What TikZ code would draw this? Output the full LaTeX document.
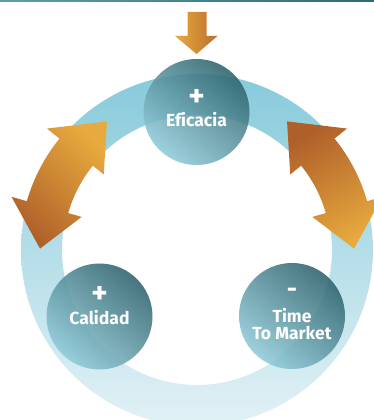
\documentclass[tikz,border=0pt]{standalone}
\usepackage{fontspec}
\setmainfont{Fira Sans}[Ligatures=NoCommon]
\definecolor{ringTop}{HTML}{87CADB}
\definecolor{ringBot}{HTML}{E2F1F6}
\definecolor{ballDark}{HTML}{2D626C}
\definecolor{ballLight}{HTML}{8FCAD8}
\definecolor{arrLight}{HTML}{E8AA3E}
\definecolor{arrDark}{HTML}{AF602A}
\definecolor{lineLeft}{HTML}{5E9DA7}
\definecolor{lineRight}{HTML}{2F6A74}
\tikzset{
  ball/.style={circle,minimum size=106pt,inner sep=0pt,top color=ballDark,bottom color=ballLight,shading angle=-40,fill opacity=.88},
  sign/.style={text=white,inner sep=0pt,font=\bfseries\fontsize{31}{31}\selectfont},
  word/.style={text=white,inner sep=0pt,anchor=base,font=\bfseries\fontsize{17.5}{18}\selectfont}
}
\begin{document}
\begin{tikzpicture}[x=1pt,y=1pt]
\useasboundingbox(0,0)rectangle(374,420);
\clip(0,0)rectangle(374,420);
% top rule
\shade[left color=lineLeft,right color=lineRight](0,418.3)rectangle(374,420);
% ring
\coordinate(c)at(197,170);
\shade[top color=ringTop,bottom color=ringBot,even odd rule](c)circle[radius=176](c)circle[radius=135];
% curved double arrows
\begin{scope}[shift={(c)}]
\shade[top color=arrLight,bottom color=arrDark,shading angle=-45]
  (141:134)--(141:120)--(125:157)--(141:193)--(141:177)arc[start angle=141,end angle=164,radius=177]
  --(164:193)--(179.5:157)--(164:120)--(164:134)arc[start angle=164,end angle=141,radius=134]--cycle;
\shade[top color=arrDark,bottom color=arrLight,shading angle=30]
  (39:134)--(39:120)--(55:157)--(39:193)--(39:177)arc[start angle=39,end angle=16,radius=177]
  --(16:193)--(0.5:157)--(16:120)--(16:134)arc[start angle=16,end angle=39,radius=134]--cycle;
\end{scope}
% down arrow
\shade[left color=arrLight,right color=arrDark!80!arrLight]
  (187.5,408)--(206.5,408)--(206.5,384)--(217.5,384)--(196.5,366)--(175,384)--(187.5,384)--cycle;
% circles
\node[ball](efi)at(196.5,308){};
\node[ball](cal)at(99.5,103.5){};
\node[ball](ttm)at(292,104){};
\node[sign](efiSign)at([yshift=14]efi.center){+};
\node[word](efiWord)at([yshift=-14.7]efi.center){Eficacia};
\node[sign](calSign)at([yshift=21.5]cal.center){+};
\node[word](calWord)at([yshift=-8.5]cal.center){Calidad};
\node[sign,font=\bfseries\fontsize{25}{25}\selectfont](ttmSign)at([yshift=22.7]ttm.center){-};
\node[word](ttmWord)at([yshift=-6.3]ttm.center){Time};
\node[word](ttmWord2)at([yshift=-24]ttm.center){To Market};
\end{tikzpicture}
\end{document}
